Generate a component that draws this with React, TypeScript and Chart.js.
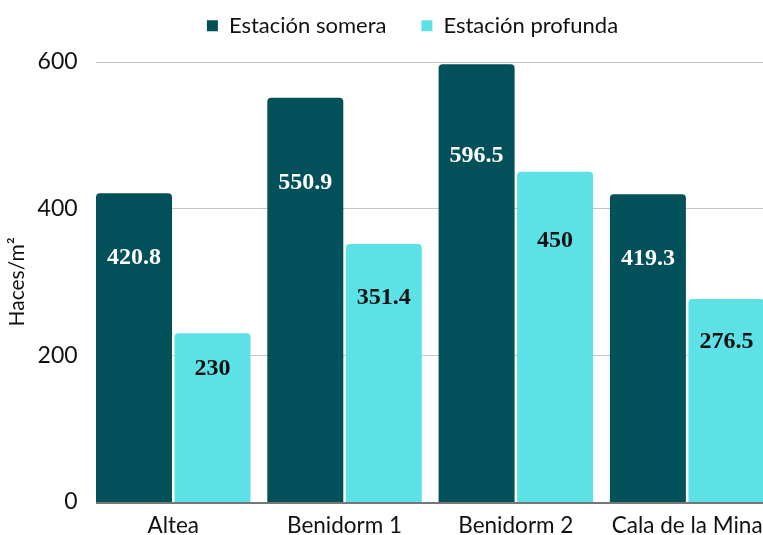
import { useEffect, useRef } from 'react';
import { Chart, registerables } from 'chart.js';

Chart.register(...registerables);

const categories = ['Altea', 'Benidorm 1', 'Benidorm 2', 'Cala de la Mina'];
const seriesNames = ['Estación somera', 'Estación profunda'];
const someraValues = [420.8, 550.9, 596.5, 419.3];
const profundaValues = [230, 351.4, 450, 276.5];
const yTickStep = 200;
const yMax = 600;
const yTitle = 'Haces/m²';

const DARK = '#02505A';
const CYAN = '#5CE1E6';
const SANS = 'Lato, "Noto Sans", sans-serif';
const LABEL_COLORS = ['#ffffff', '#111111'];

const gridPlugin = {
  id: 'customGrid',
  beforeDatasetsDraw(chart: any) {
    const first = chart.getDatasetMeta(0).data[0];
    if (!first) return;
    const x0 = first.x - first.width / 2;
    const x1 = chart.chartArea.right;
    const ys = chart.scales.y;
    const ctx = chart.ctx;
    ctx.save();
    ctx.strokeStyle = '#c4c4c4';
    ctx.lineWidth = 1;
    ys.ticks.forEach((t: any) => {
      if (t.value === 0) return;
      const py = Math.round(ys.getPixelForValue(t.value)) + 0.5;
      ctx.beginPath();
      ctx.moveTo(x0, py);
      ctx.lineTo(x1, py);
      ctx.stroke();
    });
    ctx.restore();
  },
  afterDatasetsDraw(chart: any) {
    const first = chart.getDatasetMeta(0).data[0];
    if (!first) return;
    const x0 = first.x - first.width / 2;
    const x1 = chart.chartArea.right;
    const ys = chart.scales.y;
    const ctx = chart.ctx;
    ctx.save();
    ctx.strokeStyle = '#767676';
    ctx.lineWidth = 2;
    const py = ys.getPixelForValue(0) + 1;
    ctx.beginPath();
    ctx.moveTo(x0, py);
    ctx.lineTo(x1, py);
    ctx.stroke();
    ctx.restore();
  },
};

const labelPlugin = {
  id: 'barLabels',
  afterDatasetsDraw(chart: any) {
    const ctx = chart.ctx;
    ctx.save();
    ctx.font = 'bold 24px "Liberation Serif", serif';
    ctx.textAlign = 'center';
    ctx.textBaseline = 'middle';
    chart.data.datasets.forEach((ds: any, i: number) => {
      const meta = chart.getDatasetMeta(i);
      ctx.fillStyle = LABEL_COLORS[i];
      meta.data.forEach((bar: any, j: number) => {
        const { x, y, base } = bar.getProps(['x', 'y', 'base'], true);
        const ty = base - (base - y) * 0.79;
        ctx.fillText(String(ds.data[j]), x, ty);
      });
    });
    ctx.restore();
  },
};

export default function App() {
  const ref = useRef<HTMLCanvasElement>(null);
  useEffect(() => {
    if (!ref.current) return;
    const chart = new Chart(ref.current, {
      type: 'bar',
      data: {
        labels: categories,
        datasets: [
          {
            label: seriesNames[0],
            data: someraValues,
            backgroundColor: DARK,
            borderRadius: 4,
            borderSkipped: 'start',
            categoryPercentage: 0.9165,
            barPercentage: 0.968,
          },
          {
            label: seriesNames[1],
            data: profundaValues,
            backgroundColor: CYAN,
            borderRadius: 4,
            borderSkipped: 'start',
            categoryPercentage: 0.9165,
            barPercentage: 0.968,
          },
        ],
      },
      options: {
        responsive: false,
        animation: false,
        devicePixelRatio: 1,
        layout: { padding: { top: -20.2, left: 1, right: 0, bottom: -14 } },
        plugins: {
          tooltip: { enabled: false },
          legend: {
            position: 'top',
            fullSize: true,
            labels: {
              boxWidth: 11,
              boxHeight: 11,
              padding: 35,
              color: '#111111',
              font: { family: SANS, size: 22 },
            },
          },
          subtitle: {
            display: true,
            text: '',
            position: 'top',
            weight: 500,
            padding: 0,
            font: { family: SANS, size: 10, lineHeight: 1.48 },
          },
        },
        scales: {
          x: {
            grid: { display: false, drawTicks: false },
            border: { display: false },
            ticks: {
              color: '#111111',
              padding: 10,
              font: { family: SANS, size: 22.5 },
              maxRotation: 0,
              autoSkip: false,
            },
          },
          y: {
            min: 0,
            max: yMax,
            grid: { display: false, drawTicks: false },
            border: { display: false },
            ticks: {
              stepSize: yTickStep,
              color: '#111111',
              padding: 10,
              font: { family: SANS, size: 23 },
            },
            title: {
              display: true,
              text: yTitle,
              color: '#111111',
              font: { family: SANS, size: 21 },
              padding: { top: 4, bottom: 4 },
            },
            afterFit(scale: any) {
              scale.width = 86.6;
            },
          },
          yRight: {
            type: 'linear',
            position: 'right',
            display: true,
            grid: { display: false, drawTicks: false },
            border: { display: false },
            ticks: { display: false },
            afterFit(scale: any) {
              scale.width = 51.2;
            },
          },
        },
      },
      plugins: [gridPlugin, labelPlugin],
    });
    return () => chart.destroy();
  }, []);

  return (
    <div
      style={{
        position: 'absolute',
        left: 0,
        top: 0,
        width: 763,
        height: 535,
        overflow: 'hidden',
        background: '#ffffff',
      }}
    >
      <canvas ref={ref} width={824} height={535} style={{ display: 'block' }} />
    </div>
  );
}
